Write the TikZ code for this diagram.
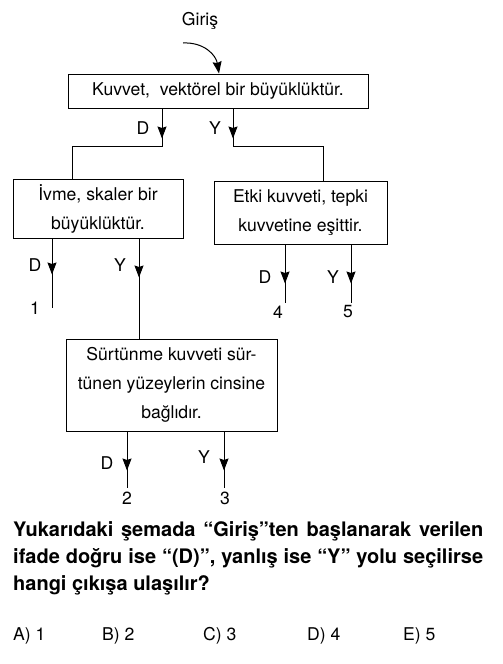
\documentclass[tikz,border=0pt]{standalone}
\usepackage{fontspec}
\setmainfont{TeX Gyre Heros}
\usetikzlibrary{arrows.meta,decorations.markings}
\begin{document}
\begin{tikzpicture}[x=1pt,y=-1pt,
  box/.style={draw, line width=1pt, rectangle, inner sep=0pt, align=center,
    font=\fontsize{17.6}{29}\selectfont},
  lbl/.style={font=\fontsize{17.6}{20}\selectfont, inner sep=0pt},
  conn/.style={line width=1pt},
  mytip/.tip={Stealth[length=12pt,width=9pt,inset=1.5pt]},
  midarr/.style={conn, postaction={decorate},
    decoration={markings, mark=at position #1 with {\arrow{mytip}}}},
]
\useasboundingbox (0,0) rectangle (503,664);

% boxes
\node[box, minimum width=300pt, minimum height=34pt] (top) at (218,91) {Kuvvet,\ \ vektörel bir büyüklüktür.};
\node[box, minimum width=170pt, minimum height=59pt] (L) at (98,208.5) {İvme, skaler bir\\büyüklüktür.};
\node[box, minimum width=173pt, minimum height=63pt] (R) at (300.5,212.5) {Etki kuvveti, tepki\\kuvvetine eşittir.};
\node[box, minimum width=211pt, minimum height=92pt] (B) at (171.5,385) {Sürtünme kuvveti sür-\\tünen yüzeylerin cinsine\\bağlıdır.};

% entry
\node[lbl] (giris) at (200,21) {Giriş};
\coordinate (g0) at (183,43);
\coordinate (gE) at (219,0);
\draw[conn, -{mytip}] (g0) .. controls (204,42) and (216,55) .. (top.north -| gE);

% top branches
\coordinate (tD) at (162,146);
\coordinate (lD) at (72,146);
\coordinate (tY) at (233,146);
\coordinate (rY) at (323,146);
\draw[midarr=30pt] (top.south -| tD) -- (tD) -- (lD) -- (L.north -| lD);
\draw[midarr=30pt] (top.south -| tY) -- (tY) -- (rY) -- (R.north -| rY);
\node[lbl] (d0) at (143,128) {D};
\node[lbl] (y0) at (215,128) {Y};

% left box exits
\coordinate (e1) at (52,308);
\coordinate (lY) at (139,300);
\draw[midarr=36pt] (L.south -| e1) -- (e1);
\draw[midarr=39pt] (L.south -| lY) -- (B.north -| lY);
\node[lbl] (d1) at (35,265) {D};
\node[lbl] (y1) at (120,265) {Y};
\node[lbl] (n1) at (35,308) {1};

% right box exits
\coordinate (e4) at (285,303);
\coordinate (e5) at (351,303);
\draw[midarr=39pt] (R.south -| e4) -- (e4);
\draw[midarr=39pt] (R.south -| e5) -- (e5);
\node[lbl] (d2) at (265,277) {D};
\node[lbl] (y2) at (333,277) {Y};
\node[lbl] (n4) at (278,312) {4};
\node[lbl] (n5) at (348,312) {5};

% bottom box exits
\coordinate (e2) at (127,488);
\coordinate (e3) at (224,488);
\draw[midarr=39pt] (B.south -| e2) -- (e2);
\draw[midarr=39pt] (B.south -| e3) -- (e3);
\node[lbl] (d3) at (107,463) {D};
\node[lbl] (y3) at (204,457) {Y};
\node[lbl] (n2) at (127,498) {2};
\node[lbl] (n3) at (225,498) {3};

% question
\node[anchor=north west, inner sep=0pt, align=left,
  font=\bfseries\fontsize{20}{27}\selectfont] (q) at (13,521.5)
  {\makebox[470pt][s]{Yukarıdaki şemada “Giriş”ten başlanarak verilen}\\
   \makebox[470pt][s]{ifade doğru ise “(D)”, yanlış ise “Y” yolu seçilirse}\\
   hangi çıkışa ulaşılır?};

% answers
\node[lbl, anchor=base west] (a) at (13,640) {A) 1};
\node[lbl, anchor=base west] (b) at (102,640) {B) 2};
\node[lbl, anchor=base west] (c) at (203,640) {C) 3};
\node[lbl, anchor=base west] (d) at (307,640) {D) 4};
\node[lbl, anchor=base west] (e) at (403,640) {E) 5};
\end{tikzpicture}
\end{document}
